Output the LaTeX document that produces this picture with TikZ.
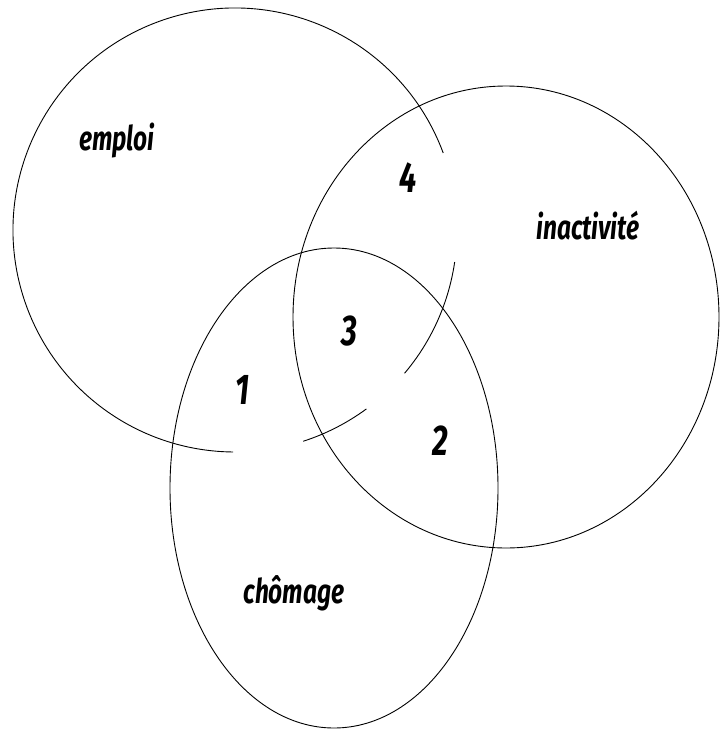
\documentclass[tikz,border=0pt]{standalone}
\usepackage{fontspec}
\newfontfamily\lblfont[FakeStretch=0.72]{Fira Sans}
\usepackage{tikz}

\begin{document}
\begin{tikzpicture}[x=1pt, y=-1pt,
  ring/.style={draw, line width=0.9pt},
  lbl/.style={font=\lblfont\bfseries\itshape\fontsize{34}{34}\selectfont, inner sep=0pt},
  num/.style={font=\lblfont\bfseries\itshape\fontsize{43}{43}\selectfont, inner sep=0pt}]
\useasboundingbox (0,0) rectangle (720,731);
% the three sets
\coordinate (cE) at (235,230);
\draw[ring] (cE) ++(-20.3:222) arc[start angle=-20.3, end angle=-269.5, radius=222];
\draw[ring] (cE) ++(8.3:222) arc[start angle=8.3, end angle=40.2, radius=222];
\draw[ring] (cE) ++(53.7:222) arc[start angle=53.7, end angle=72.1, radius=222];
\draw[ring] (506,317) ellipse[x radius=213, y radius=231];
\draw[ring] (334,488) ellipse[x radius=164, y radius=240];
% labels
\node[lbl] (emploi) at (117,141) {emploi};
\node[lbl] (inact) at (588,226) {inactivité};
\node[lbl] (chom) at (294,593) {chômage};
\node[num] (n1) at (243,390) {1};
\node[num] (n2) at (440,441) {2};
\node[num] (n3) at (349,331) {3};
\node[num] (n4) at (408,178) {4};
\end{tikzpicture}
\end{document}
